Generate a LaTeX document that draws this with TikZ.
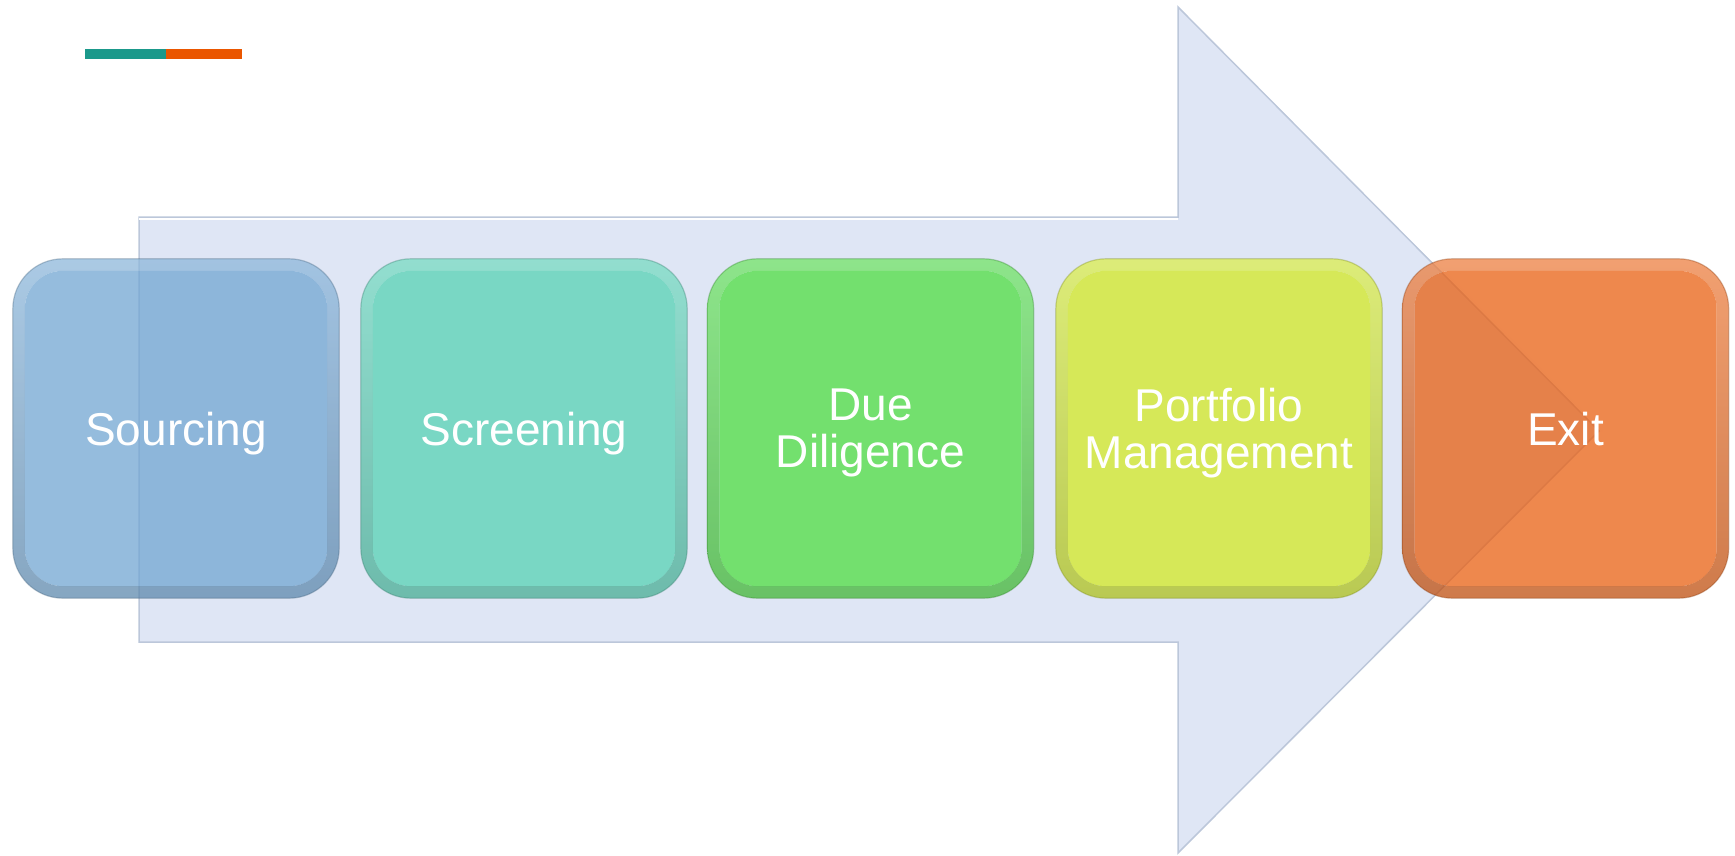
\documentclass[tikz,border=0pt]{standalone}
\usepackage{fontspec}
\setmainfont{Liberation Sans}
\definecolor{arrowfill}{RGB}{223,230,245}
\definecolor{arrowedge}{RGB}{188,199,218}
\definecolor{cblue}{RGB}{114,166,210}
\definecolor{cteal}{RGB}{88,211,180}
\definecolor{cgreen}{RGB}{80,222,66}
\definecolor{cyellow}{RGB}{211,234,36}
\definecolor{corange}{RGB}{232,96,18}
\definecolor{barteal}{RGB}{27,153,139}
\definecolor{barorange}{RGB}{234,86,0}
\pgfdeclarelayer{arrowlayer}
\pgfdeclarelayer{boxlayer}
\pgfsetlayers{arrowlayer,boxlayer,main}
\tikzset{
  stagelabel/.style={minimum width=302pt, minimum height=315pt, inner sep=0pt,
    text=white, align=center, text depth=0pt,
    font=\fontsize{46}{47}\selectfont},
  bigarrow/.style={fill=arrowfill, draw=arrowedge, line width=1.5pt, line join=miter},
  boxfill/.style={fill opacity=0.75},
  boxring/.style={fill opacity=0.75, even odd rule, shading=axis},
  boxedge/.style={draw opacity=0.35, line width=1.2pt}
}
% #1 node name, #2 colour
\newcommand{\stagedecor}[2]{%
  \begin{pgfonlayer}{boxlayer}
    \fill[#2, boxfill, rounded corners=38pt] (#1.north west) rectangle (#1.south east);
    \shade[boxring, top color=#2!80!white, bottom color=#2!82!black]
      [rounded corners=50pt] ([shift={(-12,-12)}]#1.north west) rectangle ([shift={(12,12)}]#1.south east)
      [rounded corners=38pt] (#1.north west) rectangle (#1.south east);
    \draw[#2!60!black, boxedge, rounded corners=50pt]
      ([shift={(-12,-12)}]#1.north west) rectangle ([shift={(12,12)}]#1.south east);
  \end{pgfonlayer}}
\begin{document}
\begin{tikzpicture}[x=1pt,y=-1pt]
\useasboundingbox (0,0) rectangle (1735,855);
% accent bar
\fill[barteal] (85,49) rectangle (166,59);
\fill[barorange] (166,49) rectangle (242,59);
% big arrow
\begin{pgfonlayer}{arrowlayer}
\coordinate (a1) at (139,217);
\coordinate (a2) at (1178,217);
\coordinate (a3) at (1178,7);
\coordinate (tip) at (1599,431);
\coordinate (a5) at (1178,853);
\coordinate (a6) at (1178,642);
\coordinate (a7) at (139,642);
\draw[bigarrow] (a1) -- (a2) -- (a3) -- (tip) -- (a5) -- (a6) -- (a7) -- cycle;
\draw[white, line width=1.5pt] ([yshift=-2]a1) -- ([yshift=-2]a2);
\draw[white, line width=1.5pt] ([xshift=3]a3) -- ([xshift=3]tip);
\end{pgfonlayer}
% stages
\node[stagelabel] (s1) at (176,428.5) {Sourcing};
\node[stagelabel] (s2) at (524,428.5) {Screening};
\node[stagelabel] (s3) at (870.5,428.5) {Due\\Diligence};
\node[stagelabel] (s4) at (1219,428.5) {Portfolio\\Management};
\node[stagelabel] (s5) at (1565.5,428.5) {Exit};
\stagedecor{s1}{cblue}
\stagedecor{s2}{cteal}
\stagedecor{s3}{cgreen}
\stagedecor{s4}{cyellow}
\stagedecor{s5}{corange}
\end{tikzpicture}
\end{document}
